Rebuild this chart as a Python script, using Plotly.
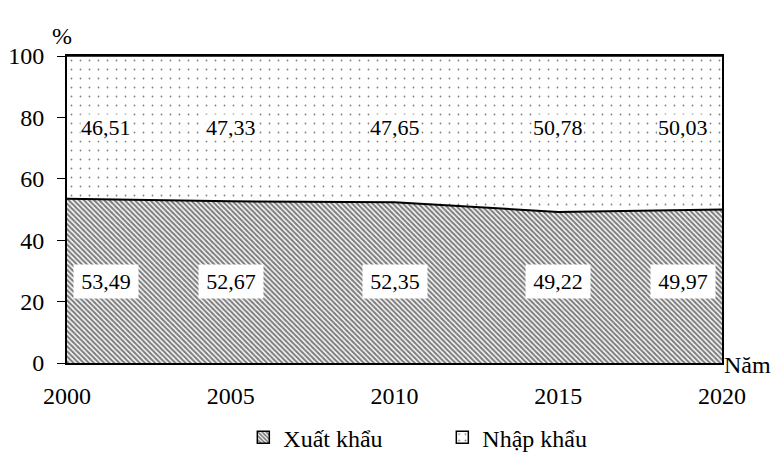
import plotly.graph_objects as go

years = [2000, 2005, 2010, 2015, 2020]
xuat_khau = [53.49, 52.67, 52.35, 49.22, 49.97]
nhap_khau = [46.51, 47.33, 47.65, 50.78, 50.03]
y_ticks = [0, 20, 40, 60, 80, 100]

FONT = "Liberation Serif"

def fmt(v):
    return f"{v:.2f}".replace(".", ",")

hatch = dict(shape="\\", size=3.6, solidity=0.6, fgcolor="black", bgcolor="white")
dots = dict(shape=".", size=9, solidity=0.03, fgcolor="black", bgcolor="white")

fig = go.Figure()
fig.add_trace(go.Scatter(
    x=years, y=xuat_khau, name="Xuất khẩu", mode="lines",
    stackgroup="one", line=dict(color="black", width=2),
    fillcolor="white", fillpattern=hatch, showlegend=False,
))
fig.add_trace(go.Scatter(
    x=years, y=nhap_khau, name="Nhập khẩu", mode="lines",
    stackgroup="one", line=dict(color="black", width=1.5),
    fillcolor="white", fillpattern=dots, showlegend=False,
))
# legend-only entries with square pattern swatches
fig.add_trace(go.Bar(x=[None], y=[None], name="Xuất khẩu",
                     marker=dict(color="white", pattern=hatch,
                                 line=dict(color="black", width=1.5))))
fig.add_trace(go.Bar(x=[None], y=[None], name="Nhập khẩu",
                     marker=dict(color="white", pattern=dict(shape=".", size=8, solidity=0.06,
                                                             fgcolor="black", bgcolor="white"),
                                 line=dict(color="black", width=1.5))))

n = len(years)
lab_x = []
for i, yr in enumerate(years):
    if i == 0:
        lab_x.append(yr + 1.2)
    elif i == n - 1:
        lab_x.append(yr - 1.2)
    else:
        lab_x.append(yr)

for xv, v in zip(lab_x, nhap_khau):
    fig.add_annotation(x=xv, y=76.8, text=fmt(v), showarrow=False,
                       font=dict(family=FONT, size=22, color="black"),
                       bgcolor="white", borderpad=0)
for xv, v in zip(lab_x, xuat_khau):
    fig.add_annotation(x=xv, y=26.4, text=fmt(v), showarrow=False,
                       font=dict(family=FONT, size=22, color="black"),
                       bgcolor="white", borderpad=0, width=64, height=33)

fig.add_annotation(xref="paper", yref="paper", x=0, y=1, xanchor="center", yanchor="bottom",
                   xshift=-5, yshift=5, text="%", showarrow=False,
                   font=dict(family=FONT, size=24, color="black"))
fig.add_annotation(xref="paper", yref="paper", x=1, y=0, xanchor="left", yanchor="middle",
                   xshift=0, yshift=-2, text="Năm", showarrow=False,
                   font=dict(family=FONT, size=24, color="black"))

fig.update_layout(
    width=778, height=472,
    margin=dict(l=67, r=56, t=56, b=105),
    plot_bgcolor="white", paper_bgcolor="white",
    font=dict(family=FONT, size=24, color="black"),
    showlegend=True, barmode="overlay",
    legend=dict(orientation="h", x=0.573, xanchor="center", y=-0.17, yanchor="top",
                font=dict(family=FONT, size=24, color="black"),
                entrywidth=154, entrywidthmode="pixels",
                tracegroupgap=0, traceorder="normal"),
    xaxis=dict(range=[2000, 2020], tickvals=years, ticks="", showgrid=False,
               showline=True, linecolor="black", linewidth=2, mirror=True,
               zeroline=False, tickfont=dict(family=FONT, size=24),
               ticklabelstandoff=10, automargin=False),
    yaxis=dict(range=[0, 100], tickvals=y_ticks, ticks="outside", ticklen=8,
               tickcolor="black", tickwidth=1, showgrid=False,
               showline=True, linecolor="black", linewidth=2, mirror=True,
               zeroline=False, tickfont=dict(family=FONT, size=24),
               ticklabelstandoff=8, automargin=False),
)

fig.write_html("out.html", config={"displayModeBar": False},
               post_script="document.body.style.margin='0';")
